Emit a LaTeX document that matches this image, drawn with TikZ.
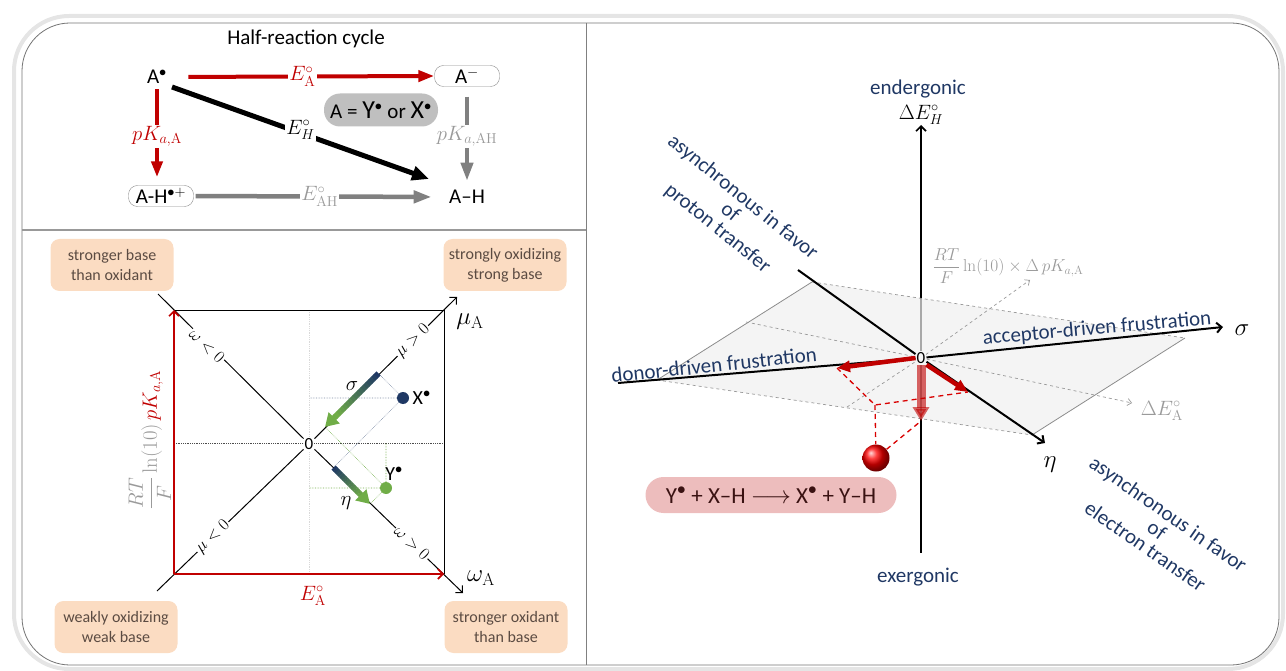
\documentclass[tikz,border=0pt]{standalone}
\usepackage{amsmath}
\usepackage[no-math]{fontspec}
\setmainfont{Carlito}
\usetikzlibrary{arrows.meta,calc,shadings}
\definecolor{navy}{HTML}{203864}
\definecolor{dnavy}{HTML}{1F3864}
\definecolor{dred}{HTML}{C00000}
\definecolor{grn}{HTML}{70AD47}
\definecolor{peach}{HTML}{FBDCC2}
\definecolor{peachtxt}{HTML}{5B4B42}
\definecolor{pillgray}{HTML}{BFBFBF}
\definecolor{pinkfill}{HTML}{EDBDBD}
\definecolor{midgray}{HTML}{808080}
\definecolor{lgray}{HTML}{9A9A9A}
\definecolor{rtxt}{HTML}{3A1212}
\tikzset{
  fz/.style 2 args={font=\fontsize{#1}{#2}\selectfont},
  statebox/.style={draw=black!45, rounded corners=9pt, minimum width=65pt, minimum height=21pt, inner sep=1pt, fz={21}{24}},
  peachbox/.style={fill=peach, rounded corners=9pt, minimum width=123pt, minimum height=52pt, text=peachtxt, align=center, fz={16}{20}},
  redarr/.style={draw=dred, line width=4pt, -{Triangle[length=16pt,width=11pt]}},
  blackarr/.style={draw=black, line width=5pt, -{Triangle[length=17pt,width=14pt]}},
  grayarr/.style={draw=midgray, line width=4.5pt, -{Triangle[length=18pt,width=12pt]}},
  lbl/.style={fill=white, inner sep=1.5pt, fz={20}{24}},
  barb/.style={-{Straight Barb[length=5pt,width=10pt]}},
  axline/.style={draw=black, line width=1pt},
  redax/.style={draw=dred, line width=1.6pt, -{Straight Barb[length=5pt,width=10pt]}},
  diaglbl/.style={fill=white, inner sep=1pt, fz={19}{22}},
  boldax/.style={draw=black, line width=2pt},
  dgray/.style={draw=black!40, dashed, line width=0.7pt},
  reddash/.style={draw=red!85!black, dashed, line width=1.3pt, dash pattern=on 5pt off 4pt},
  navytext/.style={text=navy, fz={21}{20}},
}
\begin{document}
\begin{tikzpicture}[x=1pt,y=-1pt]
\useasboundingbox (0,0) rectangle (1286,671);
% ---------- frame ----------
\draw[line width=4pt, black!10, rounded corners=55pt] (14,16) rectangle (1283,669);
\draw[line width=0.8pt, black!55, rounded corners=48pt] (22,23) rectangle (1279,665);
\draw[line width=1pt, black!50] (586,23) -- (586,665);
\draw[line width=1.4pt, black!40] (22,230) -- (586,230);

% ---------- half-reaction cycle ----------
\node[fz={21}{24}] (title) at (306,39) {Half-reaction cycle};
\node[fz={21}{24}] (Arad) at (157,77) {A$^{\bullet}$};
\node[statebox] (Aminus) at (467,76) {A$^{-}$};
\node[statebox] (AHp) at (161,196) {A-H$^{\bullet+}$};
\node[fz={21}{24}] (AH) at (467,197) {A–H};
\node[fill=pillgray, rounded corners=16pt, minimum width=114pt, minimum height=33pt, fz={21}{24}] (pill) at (381,110)
  {A = {\fontsize{26}{28}\selectfont Y}$^{\bullet}$ or {\fontsize{26}{28}\selectfont X}$^{\bullet}$};

\draw[redarr, shorten <=18pt] (Arad.east) -- (Aminus.west)
  node[midway, lbl, text=dred] {$E^{\circ}_{\mathrm{A}}$};
\draw[redarr, shorten <=2pt, shorten >=8pt] (Arad.south) -- (Arad.south |- AHp.north)
  node[midway, lbl, text=dred] {$pK_{a,\mathrm{A}}$};
\draw[blackarr] ([shift={(15,10)}]Arad.center) -- ([shift={(-38,-18)}]AH.center)
  node[midway, lbl, yshift=3pt] {$E^{\circ}_{H}$};
\draw[grayarr, line width=4pt, shorten <=10pt, shorten >=6pt] (Aminus.south) -- (Aminus.south |- AH.north)
  node[midway, lbl, text=lgray] {$pK_{a,\mathrm{AH}}$};
\draw[grayarr, shorten <=2pt, shorten >=14pt] (AHp.east) -- (AH.west)
  node[midway, lbl, text=lgray] {$E^{\circ}_{\mathrm{AH}}$};

% ---------- map of mu / omega ----------
\node[peachbox] (bTL) at (112,265) {stronger base\\than oxidant};
\node[peachbox] (bTR) at (505,265) {strongly oxidizing\\strong base};
\node[peachbox] (bBL) at (116,627) {weakly oxidizing\\weak base};
\node[peachbox] (bBR) at (506,627) {stronger oxidant\\than base};

\coordinate (NW) at (174,310); \coordinate (NE) at (444,310);
\coordinate (SE) at (444,574); \coordinate (SW) at (174,574);
\draw[densely dotted, black!70, line width=0.8pt] (174,443) -- (444,443);
\draw[densely dotted, black!15, line width=0.8pt] (309,310) -- (309,574);
\draw[line width=0.9pt] (NW) -- (NE) -- (SE);

% points and projections
\coordinate (Xm) at (378.5,373.5); \coordinate (Xw) at (333.5,467.5);
\coordinate (Ym) at (325,427);     \coordinate (Yw) at (370,504);
\node[circle, fill=dnavy, minimum size=12pt, inner sep=0pt] (X) at (403,398) {};
\node[circle, fill=grn, minimum size=12pt, inner sep=0pt] (Y) at (386,488) {};
\draw[densely dotted, navy!60, line width=0.6pt] (X) -- (Xm) (X) -- (Xw) (X) -- (309,398);
\draw[densely dotted, grn, line width=0.6pt] (Y) -- (Ym) (Y) -- (Yw) (Y) -- (309,488) (Y) -- (386,443);

\node[fill=white, inner sep=1pt, fz={17}{20}] (zero) at (309,444) {0};
\coordinate (wS) at (158,294); \coordinate (wE) at (463,593);
\coordinate (mS) at (157,591); \coordinate (mE) at (457,297);
\draw[axline] (wS) -- (zero);
\draw[axline, barb] (zero) -- (wE);
\draw[axline] (mS) -- (zero);
\draw[axline, barb] (zero) -- (mE);
\draw[redax] (SW) -- (NW);
\draw[redax] (SW) -- (SE);

% gradient arrows sigma and eta
\foreach \i in {0,...,15} {
  \pgfmathsetmacro\p{100*\i/15}
  \draw[line width=6pt, color=grn!\p!dnavy] ($(Xm)!\i*0.05!(Ym)$) -- ($(Xm)!\i*0.05+0.055!(Ym)$);
  \draw[line width=6pt, color=grn!\p!dnavy] ($(Xw)!\i*0.05!(Yw)$) -- ($(Xw)!\i*0.05+0.055!(Yw)$);
}
\draw[line width=6pt, grn, -{Triangle[length=13pt,width=15pt]}] ($(Xm)!0.79!(Ym)$) -- (Ym);
\draw[line width=6pt, grn, -{Triangle[length=13pt,width=15pt]}] ($(Xw)!0.79!(Yw)$) -- (Yw);

\node[diaglbl, rotate=-44] (wneg) at (207,346) {$\omega<0$};
\node[diaglbl, rotate=-44] (wpos) at (412,543) {$\omega>0$};
\node[diaglbl, rotate=44] (mpos) at (413,341) {$\mu>0$};
\node[diaglbl, rotate=44] (mneg) at (213,537) {$\mu<0$};
\node[fz={23}{24}] (muA) at (470,322) {$\mu_{\mathrm{A}}$};
\node[fz={23}{24}] (omA) at (481,578) {$\omega_{\mathrm{A}}$};
\node[fz={21}{24}] (sig) at (352,386) {$\sigma$};
\node[fz={21}{24}] (eta) at (346,503) {$\eta$};
\node[fz={20}{22}, anchor=west] (Xl) at (X.east) {X$^{\bullet}$};
\node[fz={20}{22}] (Yl) at (394,474) {Y$^{\bullet}$};
\node[fz={20}{22}, text=dred] (EAl) at (313,596) {$E^{\circ}_{\mathrm{A}}$};
\node[rotate=90, fz={21}{24}] (pKl) at (150,440) {\color{lgray}$\dfrac{RT}{F}\ln(10)$\,\color{dred}$pK_{a,\mathrm{A}}$};

% ---------- 3D panel ----------
\coordinate (O) at (921,358);
\coordinate (vTop) at (921,125); \coordinate (vBot) at (921,553);
\draw[line width=1.6pt, barb] (O) -- (vTop);
\draw[line width=1.6pt] (O) -- (vBot);
% plane
\coordinate (PT) at (812,282); \coordinate (PR) at (1185,338);
\coordinate (PB) at (1032,435); \coordinate (PL) at (657,380);
\fill[black!6, fill opacity=0.7] (PT) -- (PR) -- (PB) -- (PL) -- cycle;
\draw[black!45, line width=0.8pt] (PL) -- (PT);
\draw[black!45, line width=0.8pt] (PR) -- (PB);
\draw[dgray] (PT) -- (PR);
\draw[dgray] (PL) -- (PB);
\coordinate (dEs) at (746,322); \coordinate (dEA) at (1132,403);
\coordinate (dPs) at (847,407); \coordinate (dPK) at (1030,280);
\draw[dgray] (dEs) -- (O);
\draw[dgray, -{Straight Barb[length=4pt,width=7pt]}] (O) -- (dEA);
\draw[dgray] (dPs) -- (O);
\draw[dgray, -{Straight Barb[length=4pt,width=7pt]}] (O) -- (dPK);

\node[fill=black!4, inner sep=1pt, fz={17}{20}] (O3) at (O) {0};
\coordinate (sE) at (1223,327); \coordinate (sW) at (618,383);
\coordinate (eE) at (1045,443); \coordinate (eW) at (798,270);
\draw[boldax, barb] (O3) -- (sE);
\draw[boldax] (O3) -- (sW);
\draw[boldax, barb] (O3) -- (eE);
\draw[boldax] (O3) -- (eW);

% red construction
\coordinate (sT) at (837,368); \coordinate (eT) at (968,392);
\coordinate (vT) at (921,421); \coordinate (F) at (875,405);
\node[circle, ball color=red, minimum size=27pt, inner sep=0pt] (ball) at (876,458) {};
\draw[reddash] (sT) -- (F) -- (eT);
\draw[reddash] (F) -- (ball);
\draw[reddash] (ball) -- (vT);
\draw[draw=dred, line width=9pt, opacity=0.6, -{Triangle[length=14pt,width=16pt]}] (O3.south) -- (vT);
\draw[draw=dred, line width=4.5pt, -{Triangle[length=13pt,width=11pt]}] (O3.west) -- (sT);
\draw[draw=dred, line width=4.5pt, -{Triangle[length=13pt,width=11pt]}] (O3.south east) -- (eT);

% labels
\node[navytext] (ender) at (918,89) {endergonic};
\node[navytext] (exer) at (918,577) {exergonic};
\node[fz={21}{24}] (dEH) at (921,115) {$\Delta E^{\circ}_{H}$};
\node[fz={27}{28}] (sigl) at (1242,330) {$\sigma$};
\node[fz={27}{28}] (etal) at (1050,465) {$\eta$};
\node[fz={20}{22}, text=lgray] (dEAl) at (1162,411) {$\Delta E^{\circ}_{\mathrm{A}}$};
\node[fz={18}{20}, text=lgray] (dPKl) at (1008,266) {$\dfrac{RT}{F}\ln(10)\times\Delta\,pK_{a,\mathrm{A}}$};
\node[navytext, rotate=6] (donor) at (714,365) {donor-driven frustration};
\node[navytext, rotate=5] (accept) at (1097,329) {acceptor-driven frustration};
\node[navytext, rotate=-39, align=center] (asyP) at (730,213) {asynchronous in favor\\of\\proton transfer};
\node[navytext, rotate=-35, align=center] (asyE) at (1157,530) {asynchronous in favor\\of\\electron transfer};
\node[fill=pinkfill, rounded corners=18pt, minimum width=251pt, minimum height=36pt, text=rtxt, fz={23}{26}] (rxn) at (771,495)
  {Y$^{\bullet}$ + X–H $\longrightarrow$ X$^{\bullet}$ + Y–H};
\end{tikzpicture}
\end{document}
